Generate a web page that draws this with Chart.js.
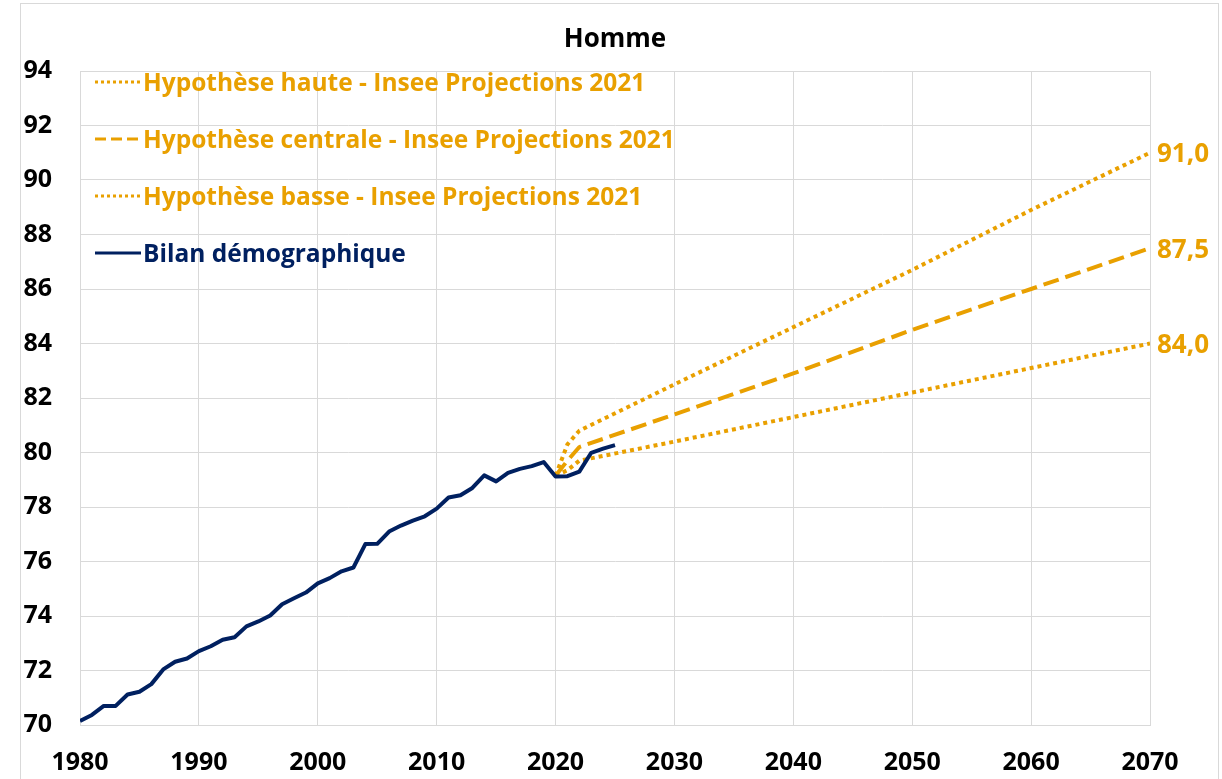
<!DOCTYPE html>
<html lang="fr">
<head>
<meta charset="UTF-8">
<title>Homme</title>
<script src="https://cdn.jsdelivr.net/npm/chart.js@4.4.1/dist/chart.umd.min.js"></script>
<style>
  html, body { margin: 0; padding: 0; background: #fff; }
  #wrap { width: 1222px; height: 779px; }
</style>
</head>
<body>
<div id="wrap"><canvas id="chart" width="1222" height="779"></canvas></div>
<script>
// Bilan démographique (espérance de vie, hommes)
const histYears = [1980, 1981, 1982, 1983, 1984, 1985, 1986, 1987, 1988, 1989,
                   1990, 1991, 1992, 1993, 1994, 1995, 1996, 1997, 1998, 1999,
                   2000, 2001, 2002, 2003, 2004, 2005, 2006, 2007, 2008, 2009,
                   2010, 2011, 2012, 2013, 2014, 2015, 2016, 2017, 2018, 2019,
                   2020, 2021, 2022, 2023, 2024, 2025];
const histValues = [70.15, 70.37, 70.7, 70.7, 71.12, 71.22, 71.5, 72.04, 72.32, 72.44,
                    72.71, 72.89, 73.13, 73.22, 73.62, 73.8, 74.02, 74.43, 74.65, 74.86,
                    75.2, 75.39, 75.64, 75.78, 76.64, 76.65, 77.1, 77.32, 77.5, 77.66,
                    77.94, 78.35, 78.43, 78.7, 79.16, 78.94, 79.25, 79.4, 79.5, 79.65,
                    79.12, 79.13, 79.3, 79.99, 80.14, 80.27];

// Insee projections 2021
const projYears = [2020, 2021, 2022, 2030, 2040, 2050, 2060, 2070];
const hauteValues = [79.15, 80.3, 80.8, 82.5, 84.6, 86.7, 88.9, 91.0];
const centraleValues = [79.15, 79.7, 80.2, 81.4, 82.9, 84.5, 86.0, 87.5];
const basseValues = [79.15, 79.35, 79.7, 80.4, 81.3, 82.2, 83.1, 84.0];

const seriesLabels = [
    'Hypothèse haute - Insee Projections 2021',
    'Hypothèse centrale - Insee Projections 2021',
    'Hypothèse basse - Insee Projections 2021',
    'Bilan démographique'
];
const chartTitle = 'Homme';
const xTicks = [1980, 1990, 2000, 2010, 2020, 2030, 2040, 2050, 2060, 2070];
const yTicks = [70, 72, 74, 76, 78, 80, 82, 84, 86, 88, 90, 92, 94];

const ORANGE = '#E9A000';
const NAVY = '#002060';
const FONT = '"Open Sans", Lato, sans-serif';

function pts(xs, ys) {
    return xs.map((x, i) => ({ x: x, y: ys[i] }));
}

// grey frame around the whole chart + title centred on the plot
const framePlugin = {
    id: 'frame',
    beforeDraw(chart) {
        const ctx = chart.ctx;
        ctx.save();
        ctx.fillStyle = '#fff';
        ctx.fillRect(0, 0, chart.width, chart.height);
        ctx.strokeStyle = '#D9D9D9';
        ctx.lineWidth = 1;
        ctx.strokeRect(20.5, 3.5, chart.width - 24, chart.height + 10);
        ctx.restore();
    },
    afterDraw(chart) {
        const ctx = chart.ctx;
        const area = chart.chartArea;
        ctx.save();
        ctx.font = 'bold 26px ' + FONT;
        ctx.fillStyle = '#000';
        ctx.textAlign = 'center';
        ctx.textBaseline = 'middle';
        ctx.fillText(chartTitle, (area.left + area.right) / 2, 40);
        ctx.restore();
    }
};

// legend inside the plot, top left
const innerLegend = {
    id: 'innerLegend',
    afterDraw(chart) {
        const ctx = chart.ctx;
        const area = chart.chartArea;
        ctx.save();
        ctx.font = 'bold 24.5px ' + FONT;
        ctx.textBaseline = 'middle';
        chart.data.datasets.forEach((ds, i) => {
            const y = area.top + 11 + i * 57;
            const x0 = area.left + 15;
            ctx.strokeStyle = ds.borderColor;
            ctx.lineWidth = 3;
            ctx.setLineDash(ds.legendDash || []);
            ctx.beginPath();
            ctx.moveTo(x0, y);
            ctx.lineTo(x0 + 46, y);
            ctx.stroke();
            ctx.setLineDash([]);
            ctx.fillStyle = ds.borderColor;
            ctx.textAlign = 'left';
            ctx.fillText(ds.label, x0 + 48, y + 2);
        });
        ctx.restore();
    }
};

// value labels at the end of the projections
const endLabels = {
    id: 'endLabels',
    afterDatasetsDraw(chart) {
        const ctx = chart.ctx;
        ctx.save();
        ctx.font = 'bold 26px ' + FONT;
        ctx.fillStyle = ORANGE;
        ctx.textAlign = 'left';
        ctx.textBaseline = 'middle';
        [0, 1, 2].forEach(i => {
            const meta = chart.getDatasetMeta(i);
            const last = meta.data[meta.data.length - 1];
            const v = chart.data.datasets[i].data[meta.data.length - 1].y;
            ctx.fillText(v.toFixed(1).replace('.', ','), last.x + 7, last.y + 2);
        });
        ctx.restore();
    }
};

const ctx = document.getElementById('chart').getContext('2d');
new Chart(ctx, {
    type: 'line',
    data: {
        datasets: [
            {
                label: seriesLabels[0],
                data: pts(projYears, hauteValues),
                borderColor: ORANGE,
                borderWidth: 4,
                borderDash: [4, 4],
                legendDash: [3, 3],
                order: 2
            },
            {
                label: seriesLabels[1],
                data: pts(projYears, centraleValues),
                borderColor: ORANGE,
                borderWidth: 4,
                borderDash: [16, 7],
                legendDash: [11, 5],
                order: 2
            },
            {
                label: seriesLabels[2],
                data: pts(projYears, basseValues),
                borderColor: ORANGE,
                borderWidth: 4,
                borderDash: [4, 4],
                legendDash: [3, 3],
                order: 2
            },
            {
                label: seriesLabels[3],
                data: pts(histYears, histValues),
                borderColor: NAVY,
                borderWidth: 4,
                order: 1
            }
        ]
    },
    options: {
        responsive: false,
        animation: false,
        devicePixelRatio: 1,
        elements: {
            point: { radius: 0, hoverRadius: 0 },
            line: { tension: 0, fill: false, borderCapStyle: 'butt', borderJoinStyle: 'round' }
        },
        layout: { padding: { left: 0, right: 72, top: 71, bottom: 0 } },
        plugins: {
            legend: { display: false },
            tooltip: { enabled: false },
            title: { display: false }
        },
        scales: {
            x: {
                type: 'linear',
                min: 1980,
                max: 2070,
                afterFit(scale) { scale.height = 54; },
                afterBuildTicks(scale) { scale.ticks = xTicks.map(v => ({ value: v })); },
                grid: { color: '#D9D9D9', lineWidth: 1, drawTicks: false },
                border: { color: '#D9D9D9' },
                ticks: {
                    color: '#000',
                    padding: 23,
                    maxRotation: 0,
                    font: { family: FONT, size: 25, weight: 'bold' },
                    callback: v => String(v)
                }
            },
            y: {
                min: 70,
                max: 94,
                afterFit(scale) { scale.width = 80; },
                afterBuildTicks(scale) { scale.ticks = yTicks.map(v => ({ value: v })); },
                grid: { color: '#D9D9D9', lineWidth: 1, drawTicks: false },
                border: { color: '#D9D9D9' },
                ticks: {
                    color: '#000',
                    padding: 28,
                    font: { family: FONT, size: 25, weight: 'bold' },
                    callback: v => String(v)
                }
            }
        }
    },
    plugins: [framePlugin, innerLegend, endLabels]
});
</script>
</body>
</html>
